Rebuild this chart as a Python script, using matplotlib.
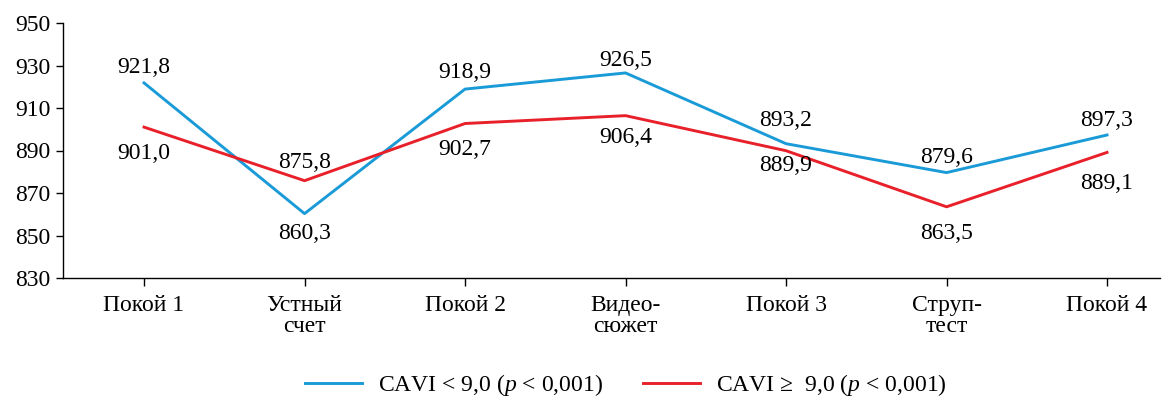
import matplotlib
matplotlib.use("Agg")
import matplotlib.pyplot as plt

plt.rcParams['font.family'] = ['Liberation Serif', 'DejaVu Serif']
plt.rcParams['mathtext.fontset'] = 'custom'
plt.rcParams['mathtext.rm'] = 'Liberation Serif'
plt.rcParams['mathtext.it'] = 'Liberation Serif:italic'

categories = ["Покой 1", "Устный\nсчет", "Покой 2", "Видео-\nсюжет", "Покой 3", "Струп-\nтест", "Покой 4"]
cavi_low = [921.8, 860.3, 918.9, 926.5, 893.2, 879.6, 897.3]
cavi_high = [901.0, 875.8, 902.7, 906.4, 889.9, 863.5, 889.1]
series_labels = ["CAVI < 9,0 ($\\mathit{p}$ < 0,001)", "CAVI \u2265  9,0 ($\\mathit{p}$ < 0,001)"]
yticks = [830, 850, 870, 890, 910, 930, 950]

# label offsets in pixels (vertical, positive = up)
low_off = [15, -20, 17, 12, 23, 15, 14]
high_off = [-26, 18, -26, -22, -15, -27, -31]

fs = 17
fig = plt.figure(figsize=(11.74, 3.97), dpi=100)
ax = fig.add_axes([63/1174, 1-278/397, (1160-63)/1174, (278-23)/397])

x = list(range(len(categories)))
blue = '#1a9bd7'
red = '#e8202a'
l1, = ax.plot(x, cavi_low, color=blue, lw=2.1, label=series_labels[0])
l2, = ax.plot(x, cavi_high, color=red, lw=2.1, label=series_labels[1])

def fmt(v):
    return f"{v:.1f}".replace('.', ',')

for xi, v, o in zip(x, cavi_low, low_off):
    ax.annotate(fmt(v), (xi, v), xytext=(0, o*0.72), textcoords='offset points',
                ha='center', va='center', fontsize=fs)
for xi, v, o in zip(x, cavi_high, high_off):
    ax.annotate(fmt(v), (xi, v), xytext=(0, o*0.72), textcoords='offset points',
                ha='center', va='center', fontsize=fs)

ax.set_ylim(830, 950)
ax.set_xlim(-0.505, 6.33)
ax.set_yticks(yticks)
ax.set_yticklabels([str(t) for t in yticks], fontsize=fs)
ax.set_xticks(x)
ax.set_xticklabels(categories, fontsize=fs, linespacing=1.0)
ax.tick_params(axis='y', length=5, width=1, pad=4)
ax.tick_params(axis='x', length=6, width=1, pad=6)
for s in ['top', 'right']:
    ax.spines[s].set_visible(False)
for s in ['left', 'bottom']:
    ax.spines[s].set_linewidth(1)

fig.legend(handles=[l1, l2], loc='center', bbox_to_anchor=(626/1174, 1-385/397),
           ncol=2, frameon=False, fontsize=fs, handlelength=2.4,
           handletextpad=0.68, columnspacing=1.7)

fig.savefig('out.png', dpi=100)
